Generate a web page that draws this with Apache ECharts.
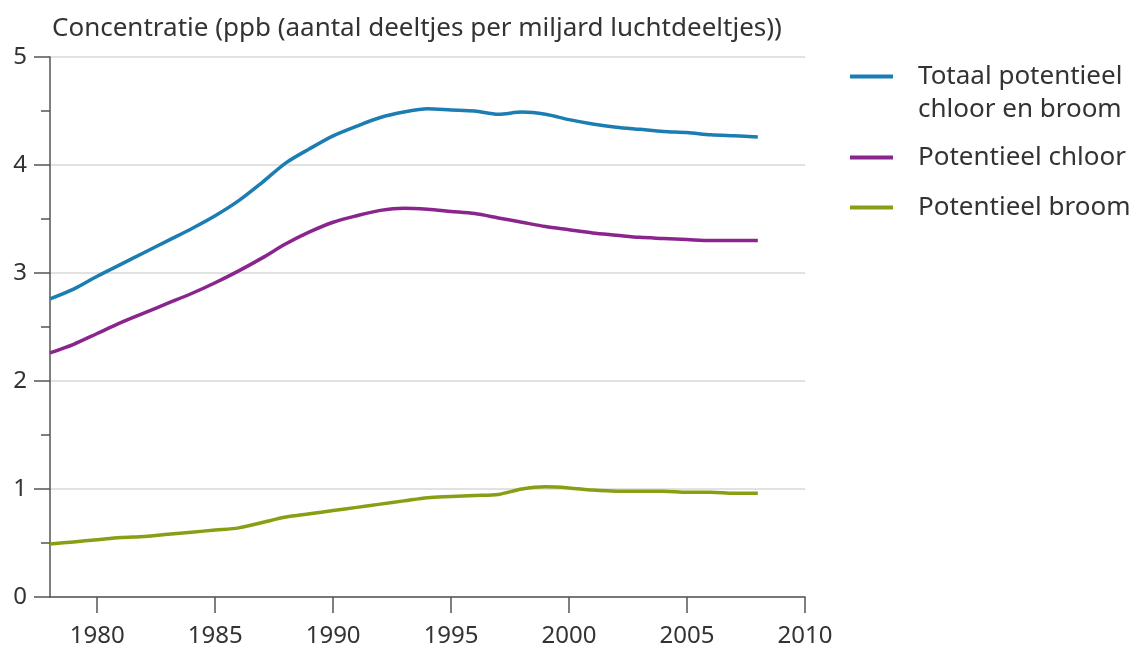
<!DOCTYPE html>
<html>
<head>
<meta charset="utf-8">
<script src="https://cdn.jsdelivr.net/npm/echarts@6/dist/echarts.min.js"></script>
<style>
  html, body { margin: 0; padding: 0; background: #fff; }
  #chart { width: 1134px; height: 648px; }
</style>
</head>
<body>
<div id="chart"></div>
<script>
// ===== Data =====
const years = [1978, 1979, 1980, 1981, 1982, 1983, 1984, 1985, 1986, 1987,
  1988, 1989, 1990, 1991, 1992, 1993, 1994, 1995, 1996, 1997,
  1998, 1999, 2000, 2001, 2002, 2003, 2004, 2005, 2006, 2007, 2008];

const totaal = [2.76, 2.85, 2.97, 3.08, 3.19, 3.30, 3.41, 3.53, 3.67, 3.84,
  4.02, 4.15, 4.27, 4.36, 4.44, 4.49, 4.52, 4.51, 4.50, 4.47,
  4.49, 4.47, 4.42, 4.38, 4.35, 4.33, 4.31, 4.30, 4.28, 4.27, 4.26];

const chloor = [2.26, 2.34, 2.44, 2.54, 2.63, 2.72, 2.81, 2.91, 3.02, 3.14,
  3.27, 3.38, 3.47, 3.53, 3.58, 3.60, 3.59, 3.57, 3.55, 3.51,
  3.47, 3.43, 3.40, 3.37, 3.35, 3.33, 3.32, 3.31, 3.30, 3.30, 3.30];

const broom = [0.49, 0.51, 0.53, 0.55, 0.56, 0.58, 0.60, 0.62, 0.64, 0.69,
  0.74, 0.77, 0.80, 0.83, 0.86, 0.89, 0.92, 0.93, 0.94, 0.95,
  1.00, 1.02, 1.01, 0.99, 0.98, 0.98, 0.98, 0.97, 0.97, 0.96, 0.96];

const xTicks = [1980, 1985, 1990, 1995, 2000, 2005, 2010];

const seriesNames = ['Totaal potentieel chloor en broom', 'Potentieel chloor', 'Potentieel broom'];
const seriesColors = ['#1c7db2', '#8a258e', '#8a9e14'];

const FONT = 'Noto Sans';
const TEXT = '#333';
const AXIS = '#555';

function pairs(values) {
  return years.map((y, i) => [y, values[i]]);
}

function initChart() {
  const chartDom = document.getElementById('chart');
  const myChart = echarts.init(chartDom);

  const legendText = { color: TEXT, fontSize: 26, fontFamily: FONT, lineHeight: 33, padding: [0, 0, 0, 20] };

  const option = {
    animation: false,
    textStyle: { fontFamily: FONT },
    grid: { left: 50, right: 329, top: 57, bottom: 51 },
    legend: [
      {
        // empty first line so the icon sits next to the first text line
        data: [seriesNames[0]],
        left: 850,
        top: 27,
        padding: 0,
        icon: 'rect',
        itemWidth: 43,
        itemHeight: 4,
        formatter: () => '\nTotaal potentieel\nchloor en broom',
        textStyle: legendText
      },
      {
        data: [seriesNames[1], seriesNames[2]],
        orient: 'vertical',
        left: 850,
        top: 141,
        padding: 0,
        itemGap: 17,
        icon: 'rect',
        itemWidth: 43,
        itemHeight: 4,
        textStyle: legendText
      }
    ],
    xAxis: {
      type: 'value',
      min: 1978,
      max: 2010,
      axisLine: { show: true, onZero: false, lineStyle: { color: AXIS, width: 1.5 } },
      axisTick: { show: true, length: 16, customValues: xTicks, lineStyle: { color: AXIS, width: 1.5 } },
      axisLabel: { customValues: xTicks, formatter: v => String(v), margin: 27, color: TEXT, fontSize: 24, fontFamily: FONT },
      splitLine: { show: false }
    },
    yAxis: {
      type: 'value',
      min: 0,
      max: 5,
      interval: 1,
      name: 'Concentratie (ppb (aantal deeltjes per miljard luchtdeeltjes))',
      nameLocation: 'end',
      nameGap: 28,
      nameTextStyle: { align: 'left', verticalAlign: 'middle', color: TEXT, fontSize: 26, fontFamily: FONT, padding: [0, 0, 0, 2] },
      axisLine: { show: true, lineStyle: { color: AXIS, width: 1.5 } },
      axisTick: { show: true, length: 16, lineStyle: { color: AXIS, width: 1.5 } },
      minorTick: { show: true, splitNumber: 2, length: 9, lineStyle: { color: AXIS, width: 1.5 } },
      axisLabel: { margin: 23, color: TEXT, fontSize: 24, fontFamily: FONT },
      splitLine: { show: true, lineStyle: { color: '#e2e2e2', width: 2 } }
    },
    series: [totaal, chloor, broom].map((values, i) => ({
      name: seriesNames[i],
      type: 'line',
      data: pairs(values),
      smooth: 0.3,
      showSymbol: false,
      lineStyle: { color: seriesColors[i], width: 3.5 },
      itemStyle: { color: seriesColors[i] }
    }))
  };

  myChart.setOption(option);
  window.addEventListener('resize', () => myChart.resize());
}

initChart();
</script>
</body>
</html>
